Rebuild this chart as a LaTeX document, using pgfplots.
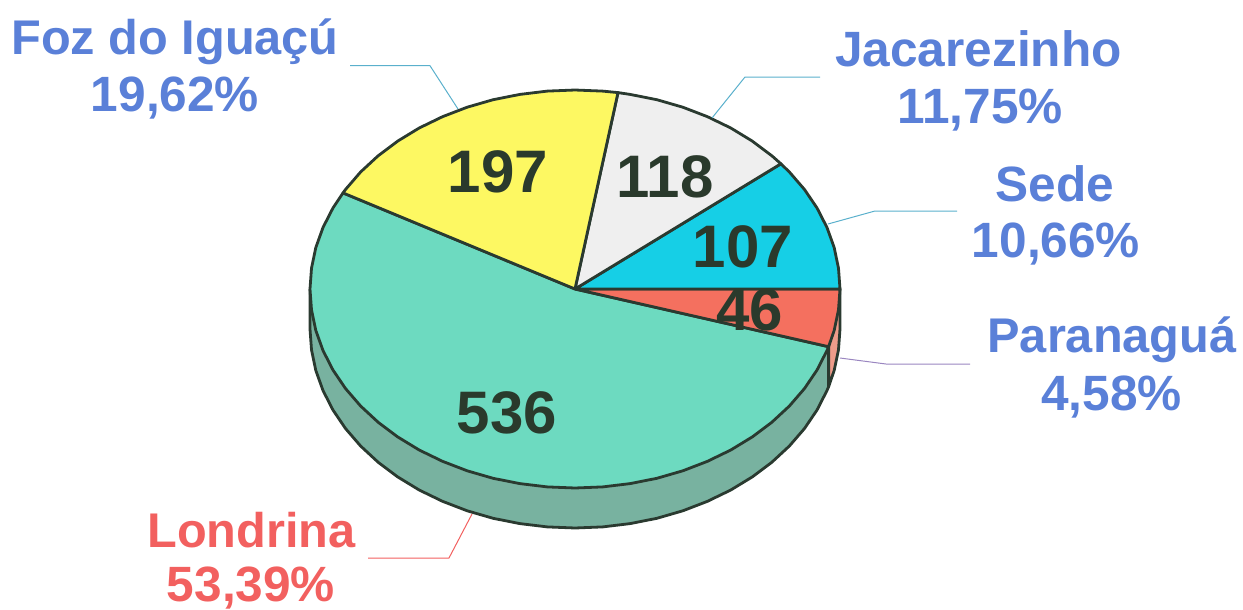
\documentclass[border=0pt]{standalone}
\usepackage{fontspec}
\setmainfont{Liberation Sans}
\usepackage{pgfplots}
\pgfplotsset{compat=1.18}
\definecolor{edge}{HTML}{2A3A30}
\definecolor{cLon}{HTML}{6DDAC0}
\definecolor{cLonS}{HTML}{78B2A0}
\definecolor{cPar}{HTML}{F4705F}
\definecolor{cParS}{HTML}{EE9C8A}
\definecolor{cSed}{HTML}{16CFE6}
\definecolor{cJac}{HTML}{EFEFEF}
\definecolor{cFoz}{HTML}{FDF862}
\definecolor{tBlue}{HTML}{5A80D8}
\definecolor{tRed}{HTML}{F2605F}
\definecolor{tDark}{HTML}{2A3A2C}
\definecolor{leadB}{HTML}{5AB0CC}
\definecolor{leadP}{HTML}{9A86C0}
\newcommand{\lab}{\fontsize{48.7bp}{58bp}\selectfont\bfseries}
\newcommand{\labw}{\fontsize{49.6bp}{58bp}\selectfont\bfseries}
\newcommand{\num}{\fontsize{60bp}{66bp}\selectfont\bfseries}
\begin{document}
\begin{tikzpicture}
\path[use as bounding box] (0,0) rectangle (1243bp,610bp);
\begin{axis}[
  at={(0,0)}, anchor=south west,
  scale only axis, width=1243bp, height=610bp,
  xmin=0, xmax=1243, ymin=0, ymax=610, y dir=reverse,
  hide axis, clip=false,
  every axis plot/.append style={line width=2.8bp, line join=round, no marks, draw=edge},
  every node/.append style={inner sep=0pt},
]
% side walls
\addplot[fill=cLonS] coordinates {(310,289)(310,329)(311.5,349.8)(315.8,370.4)(323,390.5)(332.9,409.9)(345.5,428.5)(360.6,446)(378.1,462.2)(397.7,476.9)(419.2,490)(442.5,501.3)(467.2,510.8)(493.1,518.3)(519.9,523.6)(547.3,526.9)(575,528)(602.7,526.9)(630.1,523.6)(656.9,518.3)(682.8,510.8)(707.5,501.3)(730.8,490)(752.3,476.9)(771.9,462.2)(789.4,446)(804.5,428.5)(817.1,409.9)(827,390.5)(828.6,386.7)(828.6,346.7)(575,289)(310,289)};
\addplot[fill=cParS] coordinates {(828.6,346.7)(828.6,386.7)(834.2,370.4)(838.5,349.8)(840,329)(840,289)(828.6,346.7)};
% top: Londrina
\addplot[fill=cLon] coordinates {(575,289)(343,192.9)(332.9,208.1)(323,227.5)(315.8,247.6)(311.5,268.2)(310,289)(311.5,309.8)(315.8,330.4)(323,350.5)(332.9,369.9)(345.5,388.5)(360.6,406)(378.1,422.2)(397.7,436.9)(419.2,450)(442.5,461.3)(467.2,470.8)(493.1,478.3)(519.9,483.6)(547.3,486.9)(575,488)(602.7,486.9)(630.1,483.6)(656.9,478.3)(682.8,470.8)(707.5,461.3)(730.8,450)(752.3,436.9)(771.9,422.2)(789.4,406)(804.5,388.5)(817.1,369.9)(827,350.5)(828.6,346.7)(575,289)};
% Paranagua
\addplot[fill=cPar] coordinates {(575,289)(828.6,346.7)(834.2,330.4)(838.5,309.8)(840,289)(575,289)};
% Sede
\addplot[fill=cSed] coordinates {(575,289)(840,289)(838.5,268.2)(834.2,247.6)(827,227.5)(817.1,208.1)(804.5,189.5)(789.4,172)(780.9,163.8)(575,289)};
% Jacarezinho
\addplot[fill=cJac] coordinates {(575,289)(780.9,163.8)(771.9,155.8)(752.3,141.1)(730.8,128)(707.5,116.7)(682.8,107.2)(656.9,99.7)(630.1,94.4)(618,92.6)(575,289)};
% Foz do Iguacu
\addplot[fill=cFoz] coordinates {(575,289)(618,92.6)(602.7,91.1)(575,90)(547.3,91.1)(519.9,94.4)(493.1,99.7)(467.2,107.2)(442.5,116.7)(419.2,128)(397.7,141.1)(378.1,155.8)(360.6,172)(345.5,189.5)(343,192.9)(575,289)};
% leader lines
\addplot[draw=leadB, line width=1bp] coordinates {(350,65.7)(430,65.7)(458,109)};
\addplot[draw=leadB, line width=1bp] coordinates {(712,118)(745,77)(820,77)};
\addplot[draw=leadB, line width=1bp] coordinates {(828,224)(875,211)(957,211)};
\addplot[draw=leadP, line width=1bp] coordinates {(840,358)(886,364)(970,364)};
\addplot[draw=tRed, line width=1bp] coordinates {(472,514)(449,558)(368,558)};
% slice values
\node[anchor=base, text=tDark] at (axis cs:498,192) {\num 197};
\node[anchor=base, text=tDark] at (axis cs:665,197) {\num 118};
\node[anchor=base, text=tDark] at (axis cs:743,267) {\num 107};
\node[anchor=base, text=tDark] at (axis cs:750,330) {\num 46};
\node[anchor=base, text=tDark] at (axis cs:507,433) {\num 536};
% labels
\node[anchor=base, text=tBlue] at (axis cs:175,54) {\lab Foz do Iguaçú};
\node[anchor=base, text=tBlue] at (axis cs:175,111) {\labw 19,62\%};
\node[anchor=base, text=tBlue] at (axis cs:978.5,66) {\labw Jacarezinho};
\node[anchor=base, text=tBlue] at (axis cs:980,123) {\labw 11,75\%};
\node[anchor=base, text=tBlue] at (axis cs:1055,201) {\labw Sede};
\node[anchor=base, text=tBlue] at (axis cs:1056,257) {\labw 10,66\%};
\node[anchor=base, text=tBlue] at (axis cs:1112,352) {\lab Paranaguá};
\node[anchor=base, text=tBlue] at (axis cs:1111.5,410) {\labw 4,58\%};
\node[anchor=base, text=tRed] at (axis cs:251.5,547) {\lab Londrina};
\node[anchor=base, text=tRed] at (axis cs:251,601) {\labw 53,39\%};
\end{axis}
\end{tikzpicture}
\end{document}
